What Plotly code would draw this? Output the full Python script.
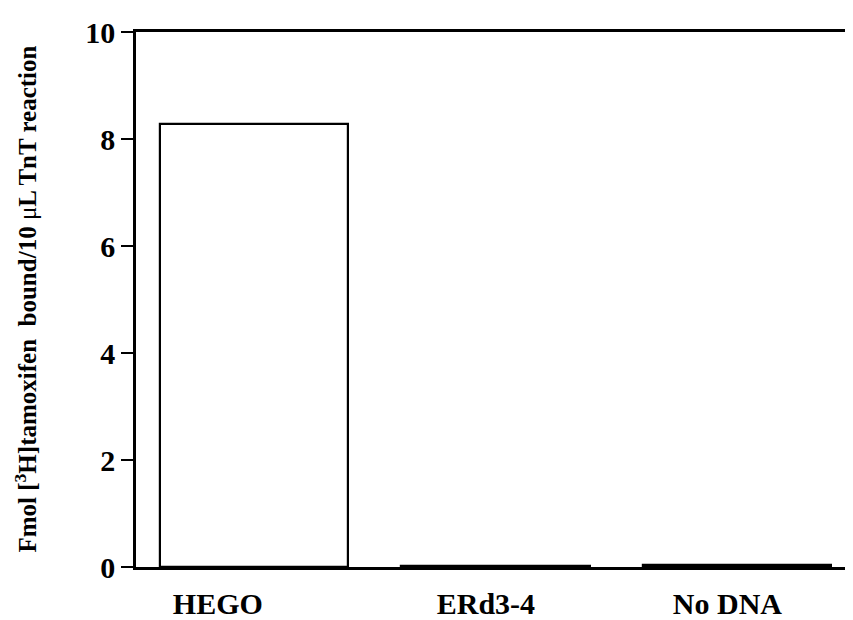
import plotly.graph_objects as go

categories = ["HEGO", "ERd3-4", "No DNA"]
values = [8.28, 0.02, 0.04]
y_ticks = [0, 2, 4, 6, 8, 10]

positions = list(range(len(categories)))
label_offsets = [-0.15, -0.04, -0.04]

fig = go.Figure()
fig.add_trace(go.Bar(
    x=positions, y=values, width=0.78,
    marker=dict(color="white", line=dict(color="black", width=2.2)),
    showlegend=False,
))

font_serif = "Liberation Serif, Times New Roman, serif"

# page body has an 8px default margin; compensate in size/margins
fig.update_layout(
    width=845, height=612,
    margin=dict(l=128, r=0, t=24, b=47),
    paper_bgcolor="white", plot_bgcolor="white",
    bargap=0,
    xaxis=dict(
        range=[-0.489, 2.48],
        tickvals=[p + o for p, o in zip(positions, label_offsets)],
        ticktext=[f"<b>{c}</b>" for c in categories],
        tickfont=dict(family=font_serif, size=30, color="black"),
        ticks="", showgrid=False, zeroline=False,
        showline=True, linecolor="black", linewidth=2.5, mirror=True,
        ticklabelstandoff=8,
    ),
    yaxis=dict(
        range=[0, 10],
        tickvals=y_ticks,
        ticktext=[f"<b>{t}</b>" for t in y_ticks],
        tickfont=dict(family=font_serif, size=30, color="black"),
        ticks="outside", ticklen=12, tickwidth=2, tickcolor="black",
        showgrid=False, zeroline=False,
        showline=True, linecolor="black", linewidth=2.5,
    ),
    annotations=[dict(
        text="<b>Fmol [<sup>3</sup>H]tamoxifen  bound/10 </b>μ<b>L TnT reaction</b>",
        xref="paper", yref="paper", x=0, y=0.5, xshift=-111,
        xanchor="center", yanchor="middle", textangle=-90, showarrow=False,
        font=dict(family=font_serif, size=25, color="black"),
    )],
)

fig.write_html("out.html")
